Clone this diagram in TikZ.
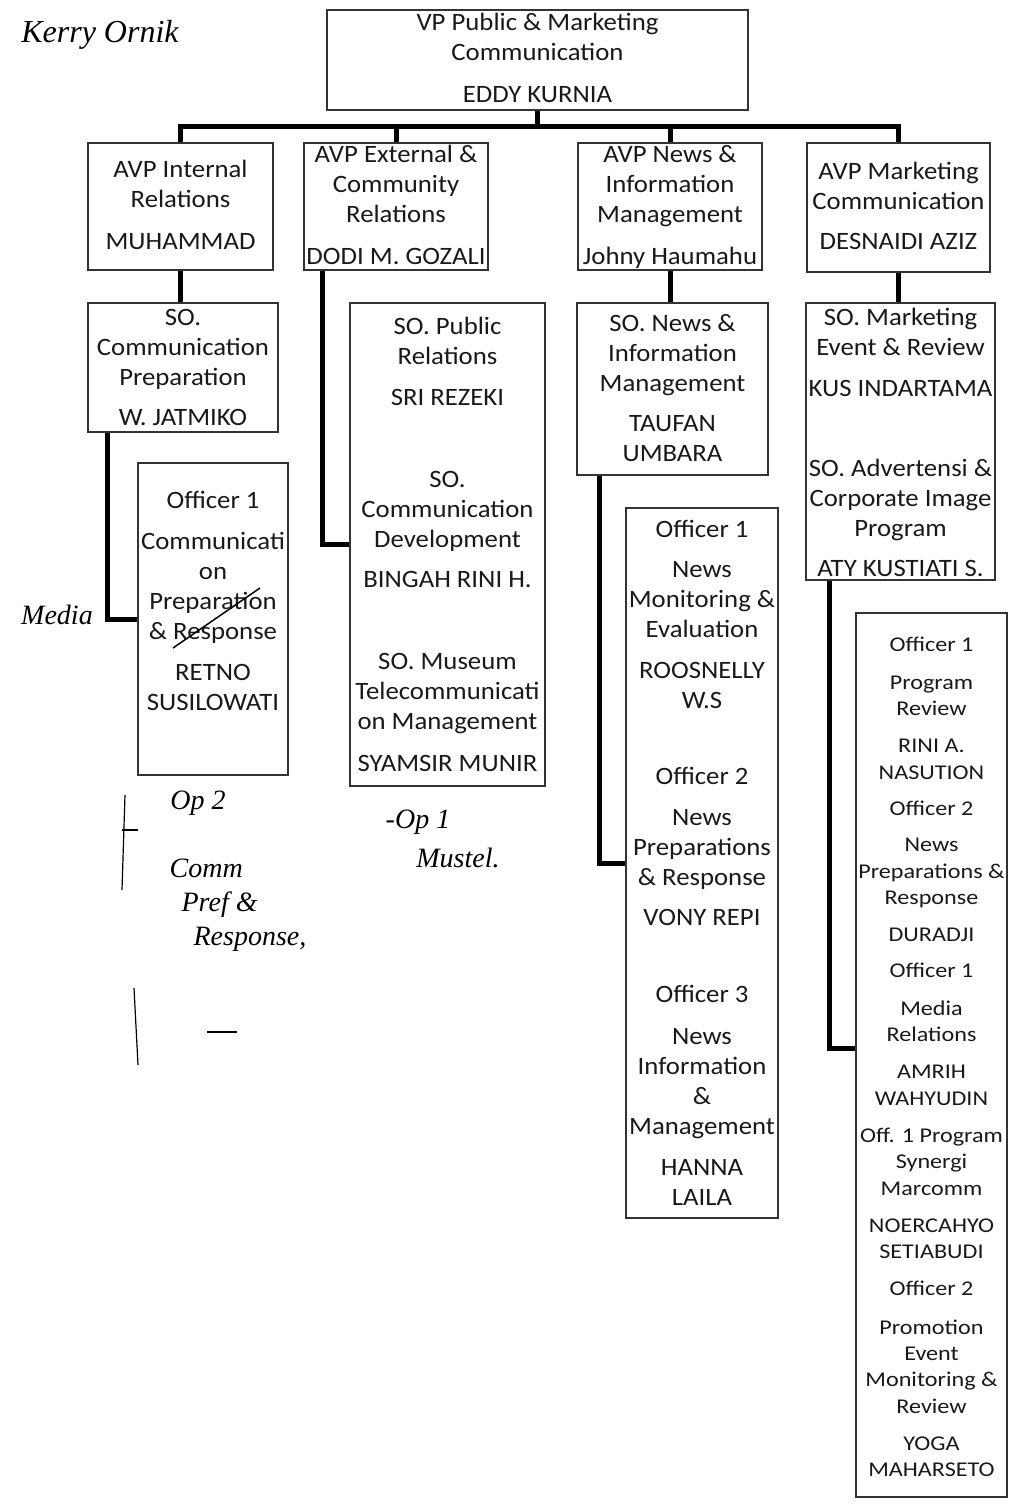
\documentclass[tikz,border=0pt]{standalone}
\usepackage{fontspec}
\setmainfont{Carlito}[FakeStretch=1.07]
\newfontfamily\slimfont{Carlito}[FakeStretch=1.15]
\newfontfamily\notefont{Liberation Serif}
\usepackage{tikz}
\usetikzlibrary{positioning}

\begin{document}
\begin{tikzpicture}[
    x=1pt, y=-1pt,
    box/.style={%
      draw=black!80,
      line width=1.6pt,
      rectangle,
      inner sep=0pt,
    },
    txt/.style={%
      align=center,
      inner sep=0pt,
      text=black!90,
      font=\fontsize{25}{30}\selectfont,
    },
    slimtxt/.style={%
      txt,
      font=\slimfont\fontsize{21}{26.3}\selectfont,
    },
    conn/.style={%
      line width=5pt,
    },
    note/.style={%
      align=left,
      inner sep=0pt,
      font=\notefont\itshape\fontsize{28}{34}\selectfont,
    },
  ]
    \useasboundingbox (0,0) rectangle (1014,1505);

    % top
    \node [box, minimum width=421pt, minimum height=100pt] (vp) at (537.5,60) {};
    \node [txt, below=4pt of vp.north] (vp-t) {VP Public \& Marketing\\Communication\\[12pt]EDDY KURNIA};

    % AVP row
    \node [box, minimum width=185pt, minimum height=127pt] (avpint) at (180.5,206.5) {};
    \node [box, minimum width=184pt, minimum height=127pt] (avpext) at (396,206.5) {};
    \node [box, minimum width=184pt, minimum height=127pt] (avpnews) at (670,206.5) {};
    \node [box, minimum width=183pt, minimum height=129pt] (avpmkt) at (898.5,207.5) {};

    \node [txt, below=18pt of avpint.north] (avpint-t) {AVP Internal\\Relations\\[12pt]MUHAMMAD};
    \node [txt, below=3pt of avpext.north] (avpext-t) {AVP External \&\\Community\\Relations\\[12pt]DODI M. GOZALI};
    \node [txt, below=3pt of avpnews.north] (avpnews-t) {AVP News \&\\Information\\Management\\[12pt]Johny Haumahu};
    \node [txt, below=20pt of avpmkt.north] (avpmkt-t) {AVP Marketing\\Communication\\[10pt]DESNAIDI AZIZ};

    % SO row
    \node [box, minimum width=190pt, minimum height=129pt] (socomm) at (183,367.5) {};
    \node [box, minimum width=195pt, minimum height=483pt] (sopub) at (447.5,544.5) {};
    \node [box, minimum width=191pt, minimum height=172pt] (sonews) at (672.5,389) {};
    \node [box, minimum width=189pt, minimum height=277pt] (somkt) at (900.5,441.5) {};

    \node [txt, below=7pt of socomm.north] (socomm-t) {SO.\\Communication\\Preparation\\[10pt]W. JATMIKO};
    \node [txt, below=15pt of sopub.north] (sopub-t) {SO. Public\\Relations\\[11pt]SRI REZEKI\\[52pt]SO.\\Communication\\Development\\[10pt]BINGAH RINI H.\\[52pt]SO. Museum\\Telecommunicati\\on Management\\[12pt]SYAMSIR MUNIR};
    \node [txt, below=12pt of sonews.north] (sonews-t) {SO. News \&\\Information\\Management\\[10pt]TAUFAN\\UMBARA};
    \node [txt, below=6pt of somkt.north] (somkt-t) {SO. Marketing\\Event \& Review\\[11pt]KUS INDARTAMA\\[50pt]SO. Advertensi \&\\Corporate Image\\Program\\[10pt]ATY KUSTIATI S.};

    % officers
    \node [box, minimum width=150pt, minimum height=312pt] (offint) at (213,619) {};
    \node [box, minimum width=152pt, minimum height=710pt] (offnews) at (702,863) {};
    \node [box, minimum width=151pt, minimum height=884pt] (offmkt) at (931.5,1055) {};

    \node [txt, below=29pt of offint.north] (offint-t) {Officer 1\\[11pt]Communicati\\on\\Preparation\\\& Response\\[11pt]RETNO\\SUSILOWATI};
    \node [txt, below=13pt of offnews.north] (offnews-t) {Officer 1\\[10pt]News\\Monitoring \&\\Evaluation\\[11pt]ROOSNELLY\\W.S\\[46pt]Officer 2\\[11pt]News\\Preparations\\\& Response\\[10pt]VONY REPI\\[47pt]Officer 3\\[12pt]News\\Information\\\&\\Management\\[11pt]HANNA\\LAILA};
    \node [slimtxt, below=25pt of offmkt.north] (offmkt-t) {Officer 1\\[11pt]Program\\Review\\[11pt]RINI A.\\NASUTION\\[10pt]Officer 2\\[10pt]News\\Preparations \&\\Response\\[11pt]DURADJI\\[10pt]Officer 1\\[11pt]Media\\Relations\\[11pt]AMRIH\\WAHYUDIN\\[11pt]Off. 1 Program\\Synergi\\Marcomm\\[11pt]NOERCAHYO\\SETIABUDI\\[11pt]Officer 2\\[12pt]Promotion\\Event\\Monitoring \&\\Review\\[11pt]YOGA\\MAHARSETO};

    % connectors
    \draw [conn] (vp.south) -- ++(0,16) -| (avpint.north);
    \draw [conn] (vp.south) -- ++(0,16) -| (avpext.north);
    \draw [conn] (vp.south) -- ++(0,16) -| (avpnews.north);
    \draw [conn] (vp.south) -- ++(0,16) -| (avpmkt.north);

    \draw [conn] (avpint.south) -- (avpint.south |- socomm.north);
    \draw [conn] (avpnews.south) -- (avpnews.south |- sonews.north);
    \draw [conn] (avpmkt.south) -- (avpmkt.south |- somkt.north);

    \draw [conn] ([xshift=20pt]socomm.south west) |- (offint.west);
    \draw [conn] ([xshift=19pt]avpext.south west) |- (sopub.west);
    \draw [conn] ([xshift=23pt]sonews.south west) |- (offnews.west);
    \draw [conn] ([xshift=24pt]somkt.south west) |- ([yshift=7pt]offmkt.west);

    % handwritten notes
    \node [note, font=\notefont\itshape\fontsize{32}{36}\selectfont] (n-top) at (100,35) {Kerry Ornik};
    \node [note] (n-media) at (57,615) {Media};
    \node [note] (n-op2) at (198,803) {Op 2};
    \node [note, align=left] (n-comm) at (238,905) {Comm\\\hspace*{12pt}Pref \&\\\hspace*{24pt}Response,};
    \node [note] (n-op1) at (418,822) {-Op 1};
    \node [note] (n-mustel) at (458,858) {Mustel.};
    \draw [line width=1.5pt] (173,648) -- (260,588);
    \draw [line width=1.2pt] (125,795) -- (122,890);
    \draw [line width=1.2pt] (122,830) -- (138,830);
    \draw [line width=1.2pt] (134,988) -- (138,1065);
    \draw [line width=1.5pt] (207,1032) -- (237,1032);
\end{tikzpicture}
\end{document}
